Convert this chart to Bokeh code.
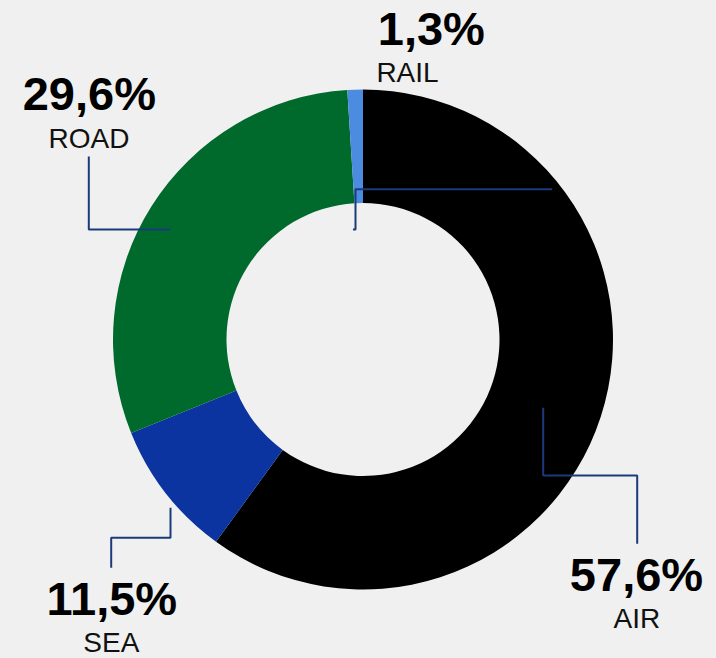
import math
from bokeh.plotting import figure
from bokeh.models import Range1d, ColumnDataSource
from bokeh.core.properties import value
from bokeh.embed import file_html
from bokeh.resources import INLINE

# ---- data (slice shares as drawn, clockwise from 12 o'clock) ----
modes = ["AIR", "SEA", "ROAD", "RAIL"]
shares = [60.0, 8.9, 30.1, 1.0]
pct_labels = ["57,6%", "11,5%", "29,6%", "1,3%"]
colors = ["#000000", "#0c34a1", "#006a2d", "#4b8be0"]

BG = "#eff0ef"
LEADER = "#1b3a7c"

# ---- layout (pixel-like data units, donut centre at origin) ----
R_OUT, R_IN = 250, 136.5
PCT_SIZE, NAME_SIZE = 47, 28
PCT_SHIFT, NAME_SHIFT = 0.36 * PCT_SIZE, 0.36 * NAME_SIZE
label_pos = {  # baselines: (pct_x, pct_y, name_x, name_y)
    "AIR": (273.5, -251.7, 273.8, -289.3),
    "SEA": (-251.2, -276.0, -251.7, -312.7),
    "ROAD": (-273.7, 229.0, -274.0, 190.7),
    "RAIL": (68.3, 294.0, 44.5, 256.7),
}
leaders = {
    "AIR": ([180.2, 180.2, 274.2, 274.2], [-68.3, -136.0, -136.0, -204.3]),
    "SEA": ([-192.5, -192.5, -251.8, -251.8], [-168.3, -198.3, -198.3, -228.3]),
    "ROAD": ([-274.2, -274.2, -192.5], [183.0, 110.0, 110.0]),
    "RAIL": ([-10.0, -7.5, -7.5, 189.2], [110.0, 110.0, 150.3, 150.3]),
}

total = sum(shares)
starts, ends = [], []
cum = 0.0
for s in shares:
    starts.append(math.pi / 2 - 2 * math.pi * cum / total)
    cum += s
    ends.append(math.pi / 2 - 2 * math.pi * cum / total)

src = ColumnDataSource(dict(start=starts, end=ends, color=colors, mode=modes))

p = figure(width=716, height=658, output_backend="svg", toolbar_location=None,
           x_range=Range1d(-362.5, 353.5), y_range=Range1d(-319, 339),
           min_border=0)
p.axis.visible = False
p.grid.visible = False
p.outline_line_color = None
p.background_fill_color = BG
p.border_fill_color = BG

p.annular_wedge(x=0, y=0, inner_radius=R_IN, outer_radius=R_OUT,
                start_angle="start", end_angle="end", direction="clock",
                fill_color="color", line_color=None, source=src)

xs = [leaders[m][0] for m in modes]
ys = [leaders[m][1] for m in modes]
p.multi_line(xs=xs, ys=ys, line_color=LEADER, line_width=2)

px = [label_pos[m][0] for m in modes]
py = [label_pos[m][1] + PCT_SHIFT for m in modes]
nx = [label_pos[m][2] for m in modes]
ny = [label_pos[m][3] + NAME_SHIFT for m in modes]

p.text(x=px, y=py, text=pct_labels, text_font=value("Liberation Sans"),
       text_font_size="%dpx" % PCT_SIZE, text_font_style="bold", text_color="#000000",
       text_align="center", text_baseline="alphabetic")
p.text(x=nx, y=ny, text=modes, text_font=value("Liberation Sans"),
       text_font_size="%dpx" % NAME_SIZE, text_color="#111111",
       text_align="center", text_baseline="alphabetic")

html = file_html(p, INLINE)
html = html.replace("<head>", "<head><style>html,body{background:%s;}</style>" % BG, 1)
open("out.html", "w").write(html)
